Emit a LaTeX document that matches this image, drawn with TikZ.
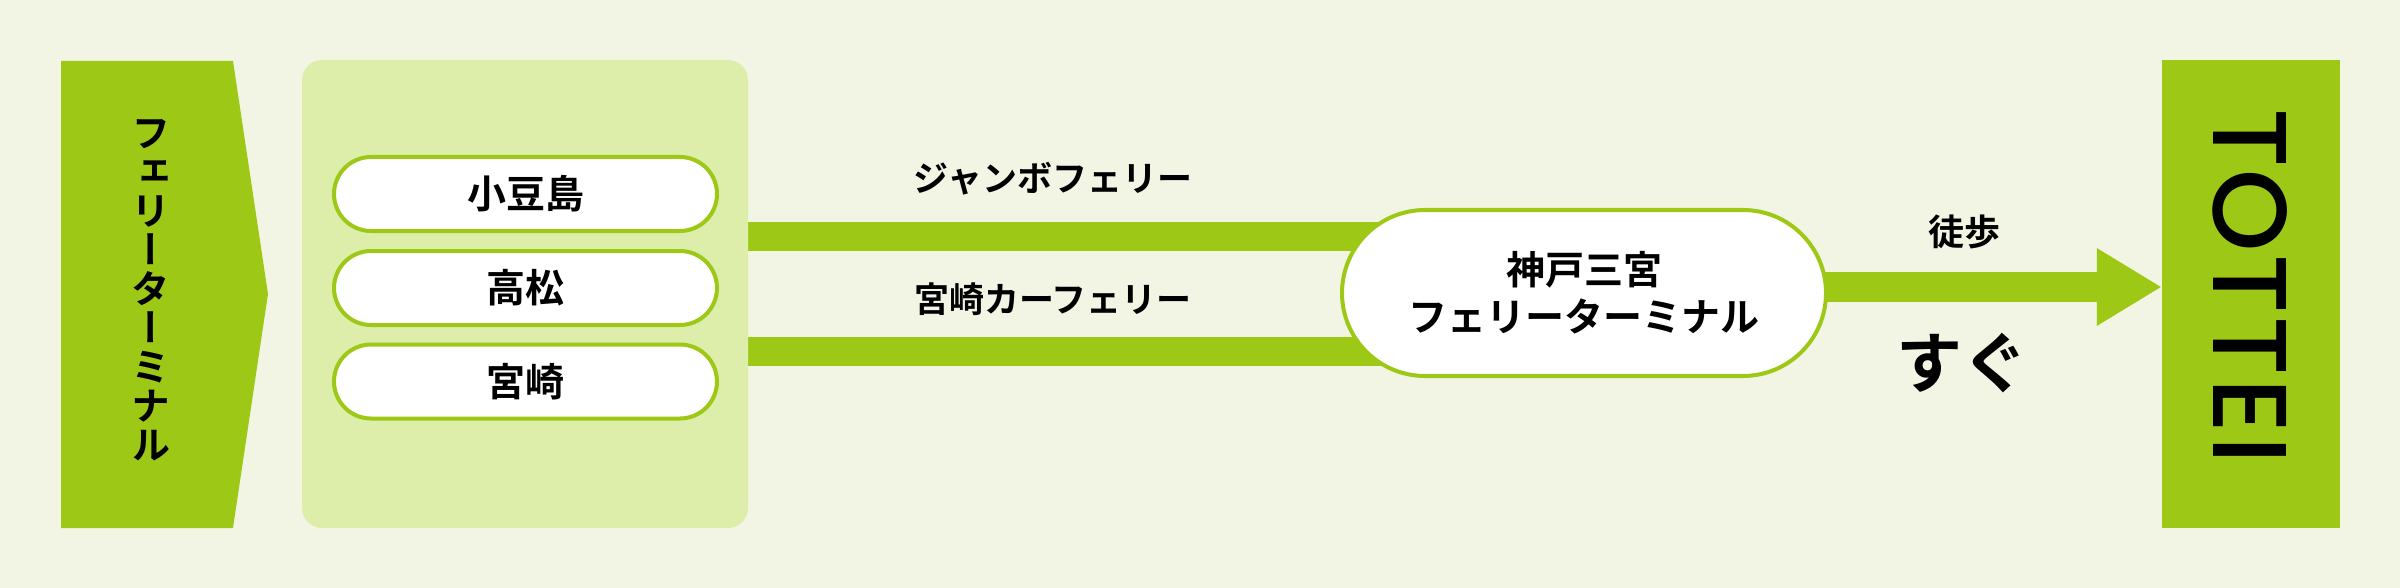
\documentclass[tikz,border=0pt]{standalone}
\usepackage{fontspec}
\newfontfamily\jp{Noto Sans CJK JP}[BoldFont={Noto Sans CJK JP Bold}]
\newfontfamily\jpv{Noto Sans CJK JP}[BoldFont={Noto Sans CJK JP Bold},RawFeature=+vert]
\newfontfamily\pop{Poppins Medium}[LetterSpace=2.5]
\usetikzlibrary{arrows.meta}
\definecolor{bgc}{RGB}{242,245,228}
\definecolor{grn}{RGB}{158,200,22}
\definecolor{lgt}{RGB}{221,238,170}
\pgfdeclarelayer{bglayer}
\pgfdeclarelayer{background}
\pgfsetlayers{bglayer,background,main}
\tikzset{
  pillS/.style={draw=grn, line width=4pt, fill=white, rounded corners=37pt,
    minimum width=383pt, minimum height=74pt, inner sep=0pt,
    font=\jp\bfseries\fontsize{39pt}{39pt}\selectfont},
  pillK/.style={draw=grn, line width=4pt, fill=white, rounded corners=83pt,
    minimum width=484pt, minimum height=166pt, inner sep=0pt, align=center,
    font=\jp\bfseries\fontsize{39pt}{47pt}\selectfont},
  lbl/.style={inner sep=0pt, font=\jp\bfseries\fontsize{35pt}{35pt}\selectfont},
  bar/.style={draw=grn, line width=29pt},
}
\begin{document}
\begin{tikzpicture}[x=1pt,y=-1pt]
\begin{pgfonlayer}{bglayer}
\fill[bgc] (0,0) rectangle (2400,588);
\end{pgfonlayer}
\useasboundingbox (0,0) rectangle (2400,588);
% left arrow shape
\fill[grn] (61,61) -- (233,61) -- (268,294) -- (233,528) -- (61,528) -- cycle;
\node[inner sep=0pt, align=center, font=\jpv\bfseries\fontsize{39pt}{39pt}\selectfont] (ferryterm) at (151,290)
  {フ\\ェ\\リ\\ー\\タ\\ー\\ミ\\ナ\\ル};
% light box
\node[fill=lgt, rounded corners=20pt, minimum width=446pt, minimum height=468pt, inner sep=0pt] (region) at (525,294) {};
\node[pillS] (shodo) at (525.5,194) {小豆島};
\node[pillS] (taka) at (525.5,288) {高松};
\node[pillS] (miya) at (525.5,381.5) {宮崎};
% Kobe terminal
\node[pillK] (kobe) at (1584,293) {神戸三宮\\フェリーターミナル};
% TOTTEI
\node[fill=grn, minimum width=178pt, minimum height=468pt, inner sep=0pt] (tottei) at (2251,294) {};
\node[rotate=-90, inner sep=0pt, font=\pop\fontsize{105pt}{105pt}\selectfont] (totteitext) at (2250,286) {TOTTEI};
% connectors
\coordinate (y1) at (0,236.5);
\coordinate (y2) at (0,351);
\coordinate (wy) at (0,287);
\begin{pgfonlayer}{background}
\draw[bar] (region.east |- y1) -- (kobe.center |- y1);
\draw[bar] (region.east |- y2) -- (kobe.center |- y2);
\draw[draw=grn, line width=30pt, -{Triangle[length=65pt, width=73pt]}] (kobe.center |- wy) -- (tottei.west |- wy);
\end{pgfonlayer}
% labels
\node[lbl] (jumbo) at (1053,179) {ジャンボフェリー};
\node[lbl] (miyaf) at (1053,299) {宮崎カーフェリー};
\node[inner sep=0pt, font=\jp\bfseries\fontsize{36pt}{36pt}\selectfont] (toho) at (1964,232) {徒歩};
\node[inner sep=0pt, font=\jp\bfseries\fontsize{66pt}{66pt}\selectfont] (sugu) at (1962,363) {すぐ};
\end{tikzpicture}
\end{document}
